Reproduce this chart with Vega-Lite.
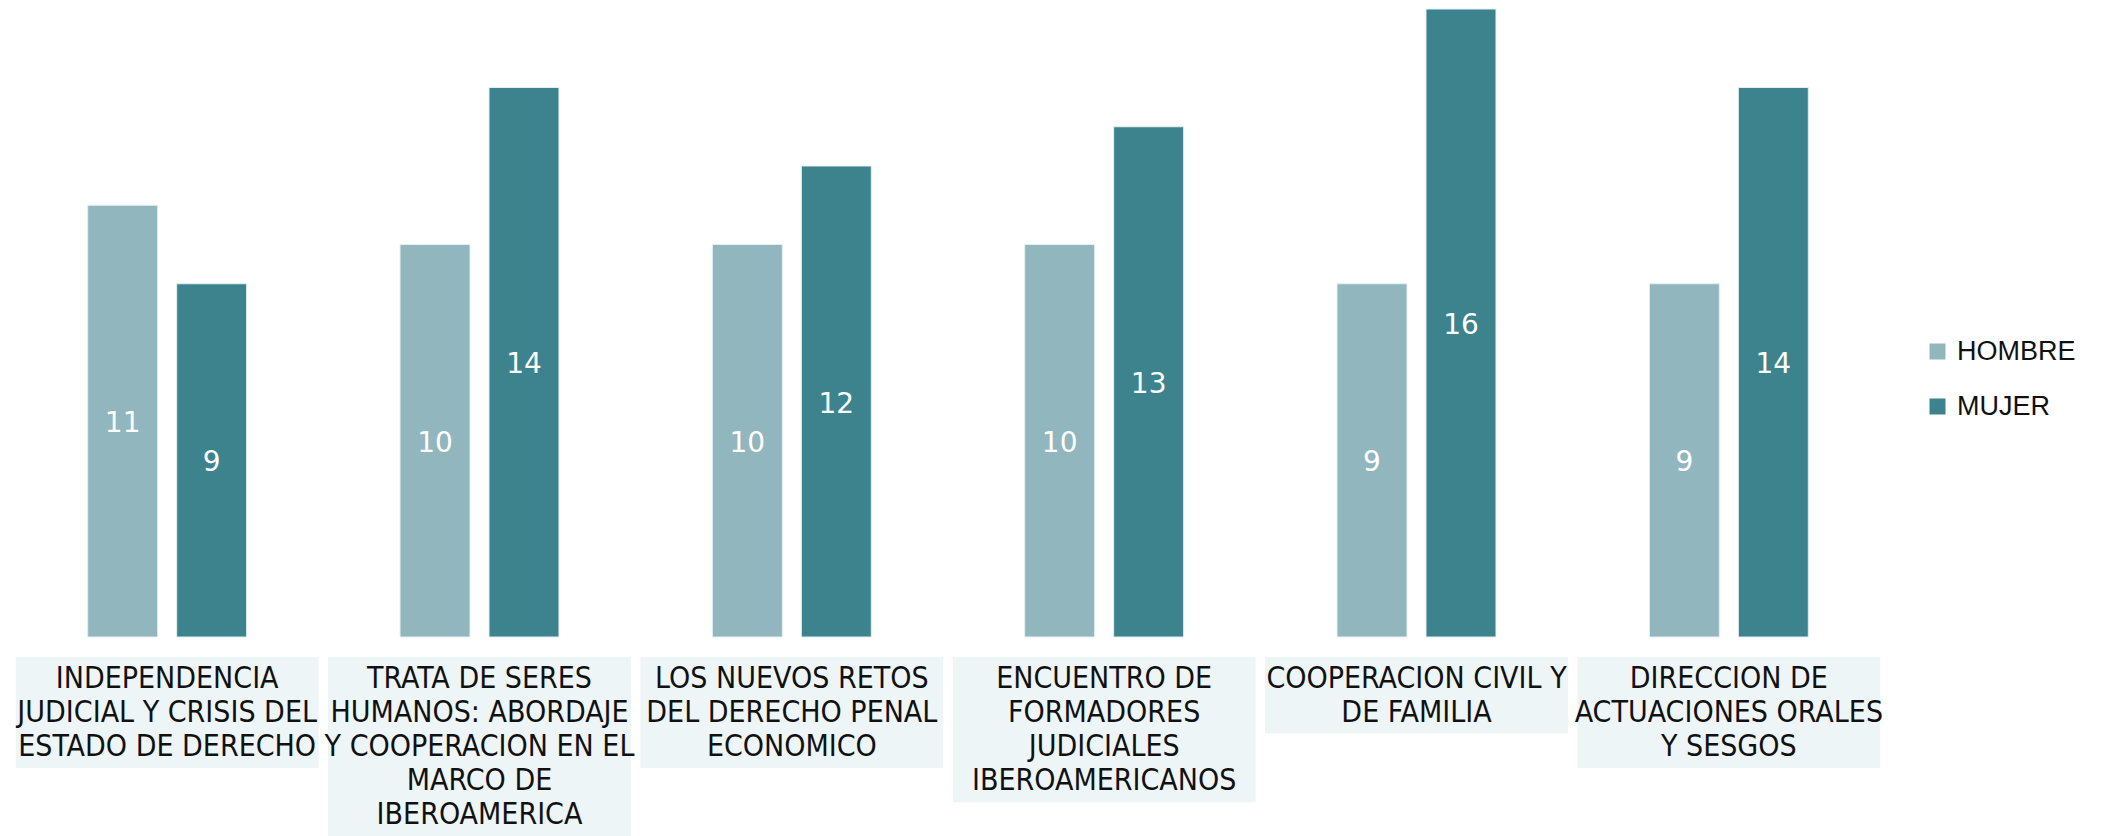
{
  "$schema": "https://vega.github.io/schema/vega-lite/v6.json",
  "autosize": "none",
  "width": 1874,
  "height": 628,
  "padding": {"left": 11, "top": 9, "right": 217, "bottom": 199},
  "background": "white",
  "config": {"view": {"stroke": null}},
  "datasets": {
    "bars": [
      {"cat": "INDEPENDENCIA JUDICIAL Y CRISIS DEL ESTADO DE DERECHO", "sexo": "HOMBRE", "n": 11},
      {"cat": "INDEPENDENCIA JUDICIAL Y CRISIS DEL ESTADO DE DERECHO", "sexo": "MUJER", "n": 9},
      {"cat": "TRATA DE SERES HUMANOS: ABORDAJE Y COOPERACION EN EL MARCO DE IBEROAMERICA", "sexo": "HOMBRE", "n": 10},
      {"cat": "TRATA DE SERES HUMANOS: ABORDAJE Y COOPERACION EN EL MARCO DE IBEROAMERICA", "sexo": "MUJER", "n": 14},
      {"cat": "LOS NUEVOS RETOS DEL DERECHO PENAL ECONOMICO", "sexo": "HOMBRE", "n": 10},
      {"cat": "LOS NUEVOS RETOS DEL DERECHO PENAL ECONOMICO", "sexo": "MUJER", "n": 12},
      {"cat": "ENCUENTRO DE FORMADORES JUDICIALES IBEROAMERICANOS", "sexo": "HOMBRE", "n": 10},
      {"cat": "ENCUENTRO DE FORMADORES JUDICIALES IBEROAMERICANOS", "sexo": "MUJER", "n": 13},
      {"cat": "COOPERACION CIVIL Y DE FAMILIA", "sexo": "HOMBRE", "n": 9},
      {"cat": "COOPERACION CIVIL Y DE FAMILIA", "sexo": "MUJER", "n": 16},
      {"cat": "DIRECCION DE ACTUACIONES ORALES Y SESGOS", "sexo": "HOMBRE", "n": 9},
      {"cat": "DIRECCION DE ACTUACIONES ORALES Y SESGOS", "sexo": "MUJER", "n": 14}
    ],
    "labels": [
      {"cat": "INDEPENDENCIA JUDICIAL Y CRISIS DEL ESTADO DE DERECHO", "lab": ["INDEPENDENCIA", "JUDICIAL Y CRISIS DEL", "ESTADO DE DERECHO"]},
      {"cat": "TRATA DE SERES HUMANOS: ABORDAJE Y COOPERACION EN EL MARCO DE IBEROAMERICA", "lab": ["TRATA DE SERES", "HUMANOS: ABORDAJE", "Y COOPERACION EN EL", "MARCO DE", "IBEROAMERICA"]},
      {"cat": "LOS NUEVOS RETOS DEL DERECHO PENAL ECONOMICO", "lab": ["LOS NUEVOS RETOS", "DEL DERECHO PENAL", "ECONOMICO"]},
      {"cat": "ENCUENTRO DE FORMADORES JUDICIALES IBEROAMERICANOS", "lab": ["ENCUENTRO DE", "FORMADORES", "JUDICIALES", "IBEROAMERICANOS"]},
      {"cat": "COOPERACION CIVIL Y DE FAMILIA", "lab": ["COOPERACION CIVIL Y", "DE FAMILIA"]},
      {"cat": "DIRECCION DE ACTUACIONES ORALES Y SESGOS", "lab": ["DIRECCION DE", "ACTUACIONES ORALES", "Y SESGOS"]}
    ]
  },
  "layer": [
    {
      "data": {"name": "labels"},
      "transform": [
        {"calculate": "-(0.51 + (34.3 * length(datum.lab) + 8) / 39.25)", "as": "ybot"}
      ],
      "mark": {"type": "bar", "color": "#eef5f7", "width": {"band": 0.97}, "clip": false},
      "encoding": {
        "x": {
          "field": "cat", "type": "nominal", "axis": null,
          "sort": [
            "INDEPENDENCIA JUDICIAL Y CRISIS DEL ESTADO DE DERECHO",
            "TRATA DE SERES HUMANOS: ABORDAJE Y COOPERACION EN EL MARCO DE IBEROAMERICA",
            "LOS NUEVOS RETOS DEL DERECHO PENAL ECONOMICO",
            "ENCUENTRO DE FORMADORES JUDICIALES IBEROAMERICANOS",
            "COOPERACION CIVIL Y DE FAMILIA",
            "DIRECCION DE ACTUACIONES ORALES Y SESGOS"
          ],
          "scale": {"paddingInner": 0, "paddingOuter": 0}
        },
        "y": {"field": "ybot", "type": "quantitative", "scale": {"domain": [0, 16], "nice": false, "zero": true}, "axis": null},
        "y2": {"datum": -0.51}
      }
    },
    {
      "data": {"name": "labels"},
      "mark": {"type": "text", "align": "center", "baseline": "top", "dy": 27, "lineHeight": 34, "fontSize": 30, "font": "Liberation Sans Narrow, Arial Narrow, DejaVu Sans Condensed, sans-serif", "color": "#111111", "clip": false},
      "encoding": {
        "x": {
          "field": "cat", "type": "nominal",
          "sort": [
            "INDEPENDENCIA JUDICIAL Y CRISIS DEL ESTADO DE DERECHO",
            "TRATA DE SERES HUMANOS: ABORDAJE Y COOPERACION EN EL MARCO DE IBEROAMERICA",
            "LOS NUEVOS RETOS DEL DERECHO PENAL ECONOMICO",
            "ENCUENTRO DE FORMADORES JUDICIALES IBEROAMERICANOS",
            "COOPERACION CIVIL Y DE FAMILIA",
            "DIRECCION DE ACTUACIONES ORALES Y SESGOS"
          ]
        },
        "y": {"datum": 0},
        "text": {"field": "lab", "type": "nominal"}
      }
    },
    {
      "data": {"name": "bars"},
      "mark": {"type": "bar", "stroke": "#e4eff1", "strokeWidth": 1},
      "encoding": {
        "x": {
          "field": "cat", "type": "nominal",
          "sort": [
            "INDEPENDENCIA JUDICIAL Y CRISIS DEL ESTADO DE DERECHO",
            "TRATA DE SERES HUMANOS: ABORDAJE Y COOPERACION EN EL MARCO DE IBEROAMERICA",
            "LOS NUEVOS RETOS DEL DERECHO PENAL ECONOMICO",
            "ENCUENTRO DE FORMADORES JUDICIALES IBEROAMERICANOS",
            "COOPERACION CIVIL Y DE FAMILIA",
            "DIRECCION DE ACTUACIONES ORALES Y SESGOS"
          ]
        },
        "xOffset": {"field": "sexo", "type": "nominal", "scale": {"paddingInner": 0.2135, "paddingOuter": 0.862}},
        "y": {"field": "n", "type": "quantitative"},
        "color": {
          "field": "sexo", "type": "nominal",
          "scale": {"domain": ["HOMBRE", "MUJER"], "range": ["#91b6bd", "#3c838d"]},
          "legend": {
            "title": null, "orient": "none", "legendX": 1913, "legendY": 329,
            "symbolType": "square", "symbolSize": 256, "symbolStrokeWidth": 0,
            "labelFontSize": 27, "labelFont": "Liberation Sans", "labelColor": "#111111",
            "labelOffset": 6, "rowPadding": 27, "padding": 0
          }
        }
      }
    },
    {
      "data": {"name": "bars"},
      "mark": {"type": "text", "fontSize": 28, "font": "DejaVu Sans", "color": "white", "baseline": "middle", "align": "center", "dy": 3},
      "encoding": {
        "x": {
          "field": "cat", "type": "nominal",
          "sort": [
            "INDEPENDENCIA JUDICIAL Y CRISIS DEL ESTADO DE DERECHO",
            "TRATA DE SERES HUMANOS: ABORDAJE Y COOPERACION EN EL MARCO DE IBEROAMERICA",
            "LOS NUEVOS RETOS DEL DERECHO PENAL ECONOMICO",
            "ENCUENTRO DE FORMADORES JUDICIALES IBEROAMERICANOS",
            "COOPERACION CIVIL Y DE FAMILIA",
            "DIRECCION DE ACTUACIONES ORALES Y SESGOS"
          ]
        },
        "xOffset": {"field": "sexo", "type": "nominal"},
        "y": {"field": "n", "type": "quantitative", "stack": "zero", "bandPosition": 0.5},
        "text": {"field": "n", "type": "quantitative"}
      }
    }
  ]
}
